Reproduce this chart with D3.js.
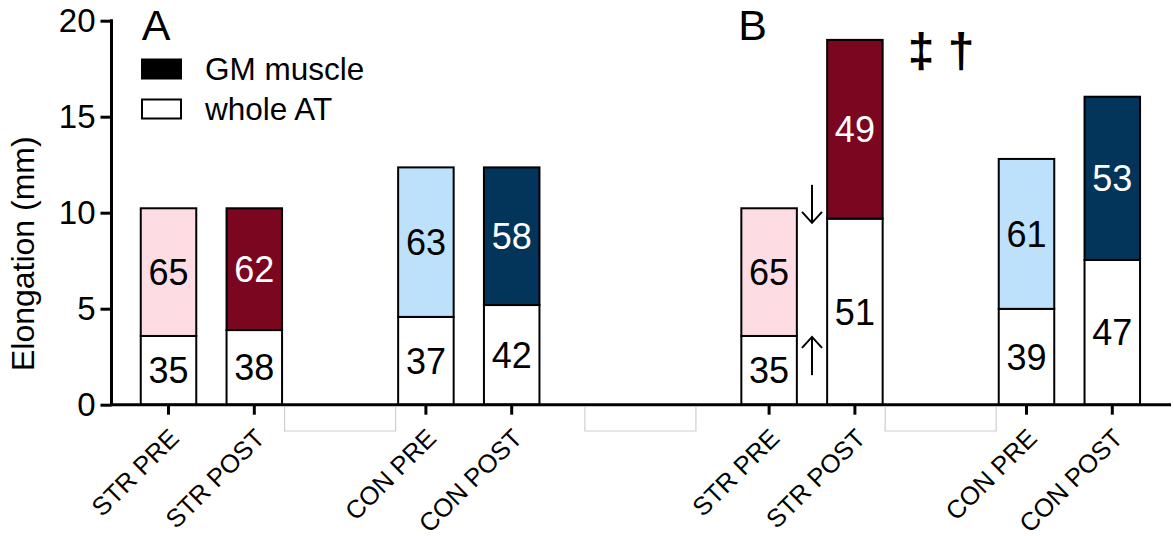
<!DOCTYPE html>
<html>
<head>
<meta charset="utf-8">
<script src="https://cdn.jsdelivr.net/npm/d3@7/dist/d3.min.js"></script>
<style>
  html, body { margin: 0; padding: 0; background: #fff; }
  svg { display: block; font-family: "Liberation Sans", Arial, Helvetica, sans-serif; }
</style>
</head>
<body>
<svg id="chart" width="1174" height="536"></svg>
<script>
// Conditions shown in each panel
const categories = ["STR PRE", "STR POST", "CON PRE", "CON POST"];
const panels = ["A", "B"];

// Total elongation (mm) per condition
const totalA = [10.23, 10.23, 12.36, 12.36];
const totalB = [10.23, 19.0, 12.8, 16.04];

// Share of the total (%) taken by the whole Achilles tendon and by the GM muscle
const atPctA = [35, 38, 37, 42];
const gmPctA = [65, 62, 63, 58];
const atPctB = [35, 51, 39, 47];
const gmPctB = [65, 49, 61, 53];

const yTicks = [0, 5, 10, 15, 20];
const legendLabels = ["GM muscle", "whole AT"];
const significance = "\u2021 \u2020";

// GM segment colours per condition, with matching label colours
const gmFill = ["#fddde3", "#7b061f", "#bde1fb", "#033459"];
const gmText = ["#000", "#fff", "#000", "#fff"];

const svg = d3.select("#chart");
const font = '"Liberation Sans", Arial, Helvetica, sans-serif';

// Slot layout along the x axis: each panel = two STR bars, a gap, two CON bars;
// panels separated by two empty slots.
const domain = [];
panels.forEach((p, pi) => {
  if (pi > 0) { domain.push(p + "|lead1", p + "|lead2"); }
  domain.push(p + "|" + categories[0], p + "|" + categories[1], p + "|gap",
              p + "|" + categories[2], p + "|" + categories[3]);
});

const x = d3.scaleBand()
  .domain(domain)
  .range([140.75, 1140.05])
  .paddingInner(0.353)
  .paddingOuter(0)
  .align(0);

const y = d3.scaleLinear().domain([0, 20]).range([404.7, 20.7]);

// Build the bar records
const rows = [];
panels.forEach((p, pi) => {
  const tot = pi === 0 ? totalA : totalB;
  const atP = pi === 0 ? atPctA : atPctB;
  const gmP = pi === 0 ? gmPctA : gmPctB;
  categories.forEach((c, ci) => {
    const at = tot[ci] * atP[ci] / 100;
    rows.push({ key: p + "|" + c, cat: c, ci, total: tot[ci], at, atPct: atP[ci], gmPct: gmP[ci] });
  });
});

const bw = x.bandwidth();

// Faint empty label frames beneath the gaps
const frameCenters = [
  x("A|gap") + bw / 2,
  (x("A|CON POST") + x("B|STR PRE")) / 2 + bw / 2,
  x("B|gap") + bw / 2
];
svg.append("g").selectAll("path").data(frameCenters).join("path")
  .attr("d", c => `M${c - bw},407 V431 H${c + bw} V407`)
  .attr("fill", "none")
  .attr("stroke", "#cfcfcf")
  .attr("stroke-width", 1.2);

// Bars
const bars = svg.append("g");
// whole AT segment (white)
bars.selectAll("rect.at").data(rows).join("rect")
  .attr("class", "at")
  .attr("x", d => x(d.key))
  .attr("width", bw)
  .attr("y", d => y(d.at))
  .attr("height", d => y(0) - y(d.at))
  .attr("fill", "#fff")
  .attr("stroke", "#000")
  .attr("stroke-width", 2);
// GM muscle segment (coloured)
bars.selectAll("rect.gm").data(rows).join("rect")
  .attr("class", "gm")
  .attr("x", d => x(d.key))
  .attr("width", bw)
  .attr("y", d => y(d.total))
  .attr("height", d => y(d.at) - y(d.total))
  .attr("fill", d => gmFill[d.ci])
  .attr("stroke", "#000")
  .attr("stroke-width", 2);

// Percentage labels
const labels = svg.append("g").attr("font-size", 36).attr("text-anchor", "middle");
labels.selectAll("text.at").data(rows).join("text")
  .attr("x", d => x(d.key) + bw / 2)
  .attr("y", d => (y(0) + y(d.at)) / 2)
  .attr("dy", "0.36em")
  .attr("fill", "#000")
  .text(d => d.atPct);
labels.selectAll("text.gm").data(rows).join("text")
  .attr("x", d => x(d.key) + bw / 2)
  .attr("y", d => (y(d.at) + y(d.total)) / 2)
  .attr("dy", "0.36em")
  .attr("fill", d => gmText[d.ci])
  .text(d => d.gmPct);

// Y axis
const yAxis = svg.append("g")
  .attr("transform", "translate(111.5,0)")
  .call(d3.axisLeft(y).tickValues(yTicks).tickSize(11).tickSizeOuter(0).tickPadding(5));
yAxis.select(".domain").attr("stroke-width", 3).attr("d", `M0,${y(20) - 1.5}V${y(0)}`);
yAxis.selectAll(".tick line").attr("stroke-width", 3);
yAxis.selectAll(".tick text").attr("font-size", 33).attr("font-family", font).attr("fill", "#000");

// X axis
const xAxis = svg.append("g")
  .attr("transform", `translate(0,${y(0)})`)
  .call(d3.axisBottom(x)
    .tickValues(rows.map(d => d.key))
    .tickSize(10)
    .tickFormat(k => k.split("|")[1]));
xAxis.select(".domain").remove();
xAxis.append("line")
  .attr("x1", 110).attr("x2", 1171)
  .attr("stroke", "#000").attr("stroke-width", 3);
xAxis.selectAll(".tick line").attr("stroke-width", 3);
xAxis.selectAll(".tick text")
  .attr("font-size", 25.5)
  .attr("font-family", font)
  .attr("fill", "#000")
  .attr("text-anchor", "end")
  .attr("dy", null)
  .attr("y", 0)
  .attr("transform", "translate(12,35) rotate(-45)");

// Y axis title
svg.append("text")
  .attr("transform", `translate(34,${(y(0) + y(20)) / 2 + 41}) rotate(-90)`)
  .attr("text-anchor", "middle")
  .attr("font-size", 32)
  .text("Elongation (mm)");

// Panel letters
svg.append("text").attr("x", x("A|STR PRE") + 1).attr("y", 40)
  .attr("font-size", 43).text(panels[0]);
svg.append("text").attr("x", x("B|STR PRE") - 3).attr("y", 40)
  .attr("font-size", 43).text(panels[1]);

// Legend
const legend = svg.append("g");
const legendFills = ["#000", "#fff"];
legendLabels.forEach((lab, i) => {
  const ly = 59.5 + i * 40;
  legend.append("rect")
    .attr("x", 142).attr("y", ly).attr("width", 39).attr("height", 19)
    .attr("fill", legendFills[i]).attr("stroke", "#000").attr("stroke-width", 2);
  legend.append("text")
    .attr("x", 205).attr("y", ly + 20.5)
    .attr("font-size", 31.5).text(lab);
});

// Change arrows between the STR PRE and STR POST bars of panel B
const ax = (x("B|STR PRE") + bw + x("B|STR POST")) / 2;
const arrows = svg.append("g").attr("fill", "none").attr("stroke", "#000").attr("stroke-width", 2);
// down arrow
arrows.append("path").attr("d", `M${ax},${y(11.45)}V${y(9.47)}`);
arrows.append("path").attr("d", `M${ax - 10},${y(9.47) - 11}L${ax},${y(9.47)}L${ax + 10},${y(9.47) - 11}`);
// up arrow
arrows.append("path").attr("d", `M${ax},${y(1.54)}V${y(3.53)}`);
arrows.append("path").attr("d", `M${ax - 10},${y(3.53) + 11}L${ax},${y(3.53)}L${ax + 10},${y(3.53) + 11}`);

// Significance markers
svg.append("text")
  .attr("x", x("B|STR POST") + bw + 25)
  .attr("y", 67)
  .attr("font-size", 48)
  .attr("font-weight", "bold")
  .text(significance);
</script>
</body>
</html>
